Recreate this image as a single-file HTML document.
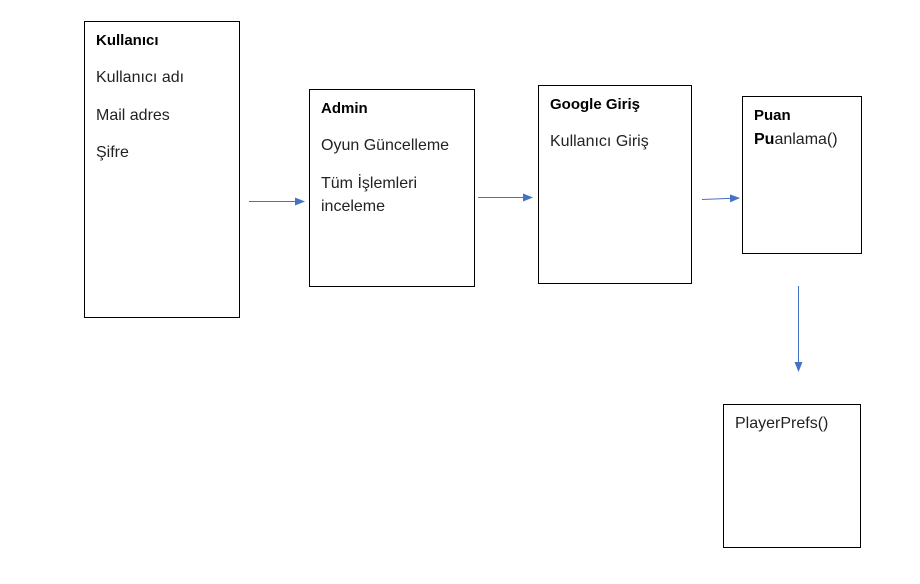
<!DOCTYPE html>
<html><head><meta charset="utf-8"><style>
body{margin:0;background:#fff;width:920px;height:584px;overflow:hidden}
svg{display:block}
text{font-family:"Liberation Sans",sans-serif;font-size:16px;fill:#222}
.b{font-weight:bold;font-size:15px;fill:#000}
</style></head><body>
<svg width="920" height="584" viewBox="0 0 920 584">
<defs><marker id="a" markerWidth="10" markerHeight="8" refX="9" refY="4" orient="auto" markerUnits="userSpaceOnUse"><path d="M0,0 L10,4 L0,8 Z" fill="#4472c4"/></marker></defs>
<g fill="none" stroke="#000" stroke-width="1">
<rect x="84.5" y="21.5" width="155" height="296"/>
<rect x="309.5" y="89.5" width="165" height="197"/>
<rect x="538.5" y="85.5" width="153" height="198"/>
<rect x="742.5" y="96.5" width="119" height="157"/>
<rect x="723.5" y="404.5" width="137" height="143"/>
</g>
<g stroke="#4472c4" stroke-width="1" marker-end="url(#a)">
<line x1="249" y1="201.5" x2="304" y2="201.5"/>
<line x1="478" y1="197.5" x2="532" y2="197.5"/>
<line x1="702" y1="199.5" x2="739" y2="198"/>
<line x1="798.5" y1="286" x2="798.5" y2="371"/>
</g>
<text class="b" x="96" y="45">Kullanıcı</text>
<text x="96" y="82">Kullanıcı adı</text>
<text x="96" y="120">Mail adres</text>
<text x="96" y="157">Şifre</text>
<text class="b" x="321" y="113">Admin</text>
<text x="321" y="150">Oyun Güncelleme</text>
<text x="321" y="188">Tüm İşlemleri</text>
<text x="321" y="211">inceleme</text>
<text class="b" x="550" y="109">Google Giriş</text>
<text x="550" y="146">Kullanıcı Giriş</text>
<text class="b" x="754" y="120">Puan</text>
<text x="754" y="144"><tspan class="b" style="font-size:16px">Pu</tspan>anlama()</text>
<text x="735" y="428">PlayerPrefs()</text>
</svg>
</body></html>
